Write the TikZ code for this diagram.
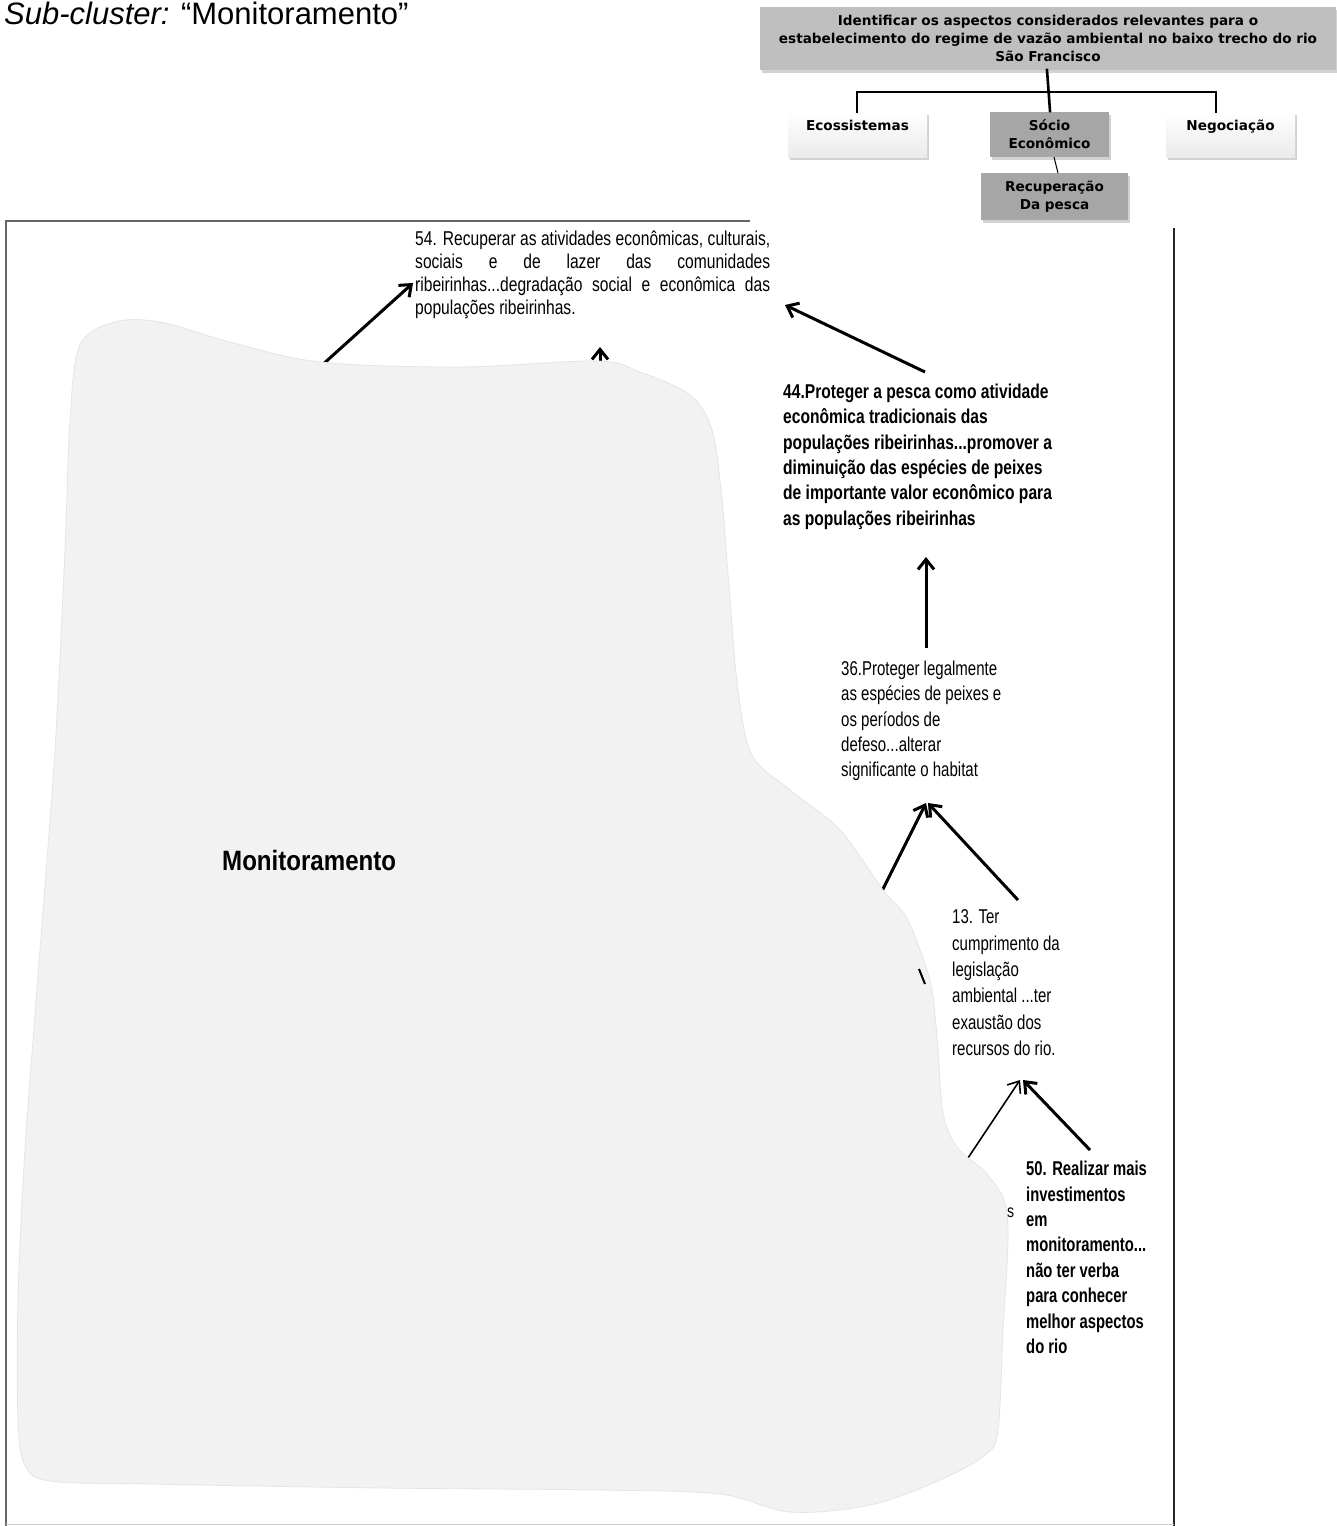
\documentclass[tikz,border=0pt]{standalone}
\usepackage{fontspec}
\setmainfont{Liberation Sans}
\newfontfamily\nar[FakeStretch=0.78]{Liberation Sans}
\newfontfamily\narr[FakeStretch=0.75]{Liberation Sans}
\newfontfamily\narb[FakeStretch=0.74]{Liberation Sans}
\newfontfamily\monf[FakeStretch=0.86]{Liberation Sans}
\newfontfamily\hfont{DejaVu Sans}
\usetikzlibrary{arrows.meta,shadows}
\definecolor{blobgray}{HTML}{F2F2F2}
\definecolor{boxgray}{HTML}{BFBFBF}
\definecolor{darkbox}{HTML}{A6A6A6}
\newcommand{\fl}{\rule{0pt}{20pt}}
\begin{document}
\begin{tikzpicture}[x=1pt,y=-1pt,
  arr/.style={line width=3pt,-{Straight Barb[length=10pt,width=16pt]}},
  thinarr/.style={line width=1.6pt,-{Straight Barb[length=10pt,width=16pt]}},
  hbox/.style={draw=none,inner sep=0pt,align=center,font=\hfont\bfseries\fontsize{13.6}{18}\selectfont,
     drop shadow={opacity=0.35,shadow xshift=2pt,shadow yshift=-3pt}},
  whitebox/.style={hbox,top color=white,bottom color=black!8},
  txt/.style={anchor=north west,inner sep=0pt,align=left},
  bar/.style={line width=2.6pt,line cap=rect}
]
\useasboundingbox (0,0) rectangle (1336,1526);
\fill[white] (0,0) rectangle (1336,1526);

% title
\node[anchor=base west,inner sep=0pt] (title) at (4,24)
  {\fontsize{31}{34}\selectfont\textit{Sub-cluster:} “Monitoramento”};

% hierarchy
\node[hbox,fill=boxgray,minimum width=576pt,minimum height=63pt] (top) at (1048,38.5)
  {Identificar os aspectos considerados relevantes para o\\
   estabelecimento do regime de vazão ambiental no baixo trecho do rio\\
   São Francisco};
\node[whitebox,minimum width=139pt,minimum height=45pt] (eco) at (857.5,134.5) {Ecossistemas\\\mbox{}};
\node[hbox,fill=darkbox,minimum width=119pt,minimum height=45pt] (socio) at (1049.5,134.5) {Sócio\\Econômico};
\node[whitebox,minimum width=129pt,minimum height=45pt] (nego) at (1230.5,134.5) {Negociação\\\mbox{}};
\node[hbox,fill=darkbox,minimum width=147pt,minimum height=47pt] (recup) at (1054.5,196.5) {Recuperação\\Da pesca};

\coordinate (barL) at (857,92);
\coordinate (barR) at (1216,92);
\draw[bar] (1047,70) -- (1050,111);
\draw[bar] (barL |- eco.north) -- (barL) -- (barR) -- (barR |- nego.north);
\draw[line width=1pt] (1054,157) -- (1058,173);

% frame
\draw[line width=2.6pt,black!60] (6,1526) -- (6,221) -- (750,221);
\draw[line width=1.6pt,black!85] (1174,228) -- (1174,1526);
\draw[line width=1pt,black!20] (6,1524.5) -- (1174,1524.5);

% coordinates of hidden tails
\coordinate (t1) at (300,385);
\coordinate (t2) at (600,380);
\coordinate (t5) at (870,915);
\coordinate (t8) at (950,1185);
\coordinate (h54a) at (413,283);
\coordinate (h54b) at (600,347);
\coordinate (h54c) at (785,305);

% arrows partly hidden by the blob
\draw[arr] (t1) -- (h54a);
\draw[arr] (t2) -- (h54b);
\draw[arr] (t5) -- (926,803);
\draw[thinarr] (t8) -- (1020,1080);

% blob
\fill[blobgray,draw=black!10,line width=0.8pt] plot[smooth cycle,tension=0.55] coordinates {
 (80,345) (115,322) (160,322) (230,342) (320,362) (460,367) (597,361) (640,372) (690,395)
 (712,430) (722,500) (730,600) (738,690) (752,755) (790,790) (840,830) (883,890) (905,915)
 (920,950) (932,990) (938,1050) (943,1113) (957,1147) (985,1172) (1004,1200) (1008,1240)
 (1003,1330) (998,1430) (985,1455) (940,1480) (870,1505) (790,1512) (720,1494) (600,1490)
 (383,1488) (150,1484) (50,1481) (25,1465) (18,1420) (18,1300) (25,1150) (40,950)
 (55,750) (65,550) (70,420)};

% small visible fragments at the blob edge
\draw[line width=2pt] (919,969) -- (925,984);
\node[anchor=base west,inner sep=0pt,font=\nar\fontsize{18}{20}\selectfont] (frag) at (1007,1217) {s};

\node[anchor=base west,inner sep=0pt,font=\monf\bfseries\fontsize{28}{30}\selectfont] (mon) at (222,870) {Monitoramento};

% text nodes
\node[txt,font=\nar\fontsize{20}{23}\selectfont] (n54) at (415,225)
 {\fl\makebox[355pt][s]{54. Recuperar as atividades econômicas, culturais,}\\
  \makebox[355pt][s]{sociais e de lazer das comunidades}\\
  \makebox[355pt][s]{ribeirinhas...degradação social e econômica das}\\
  populações ribeirinhas.};
\node[txt,font=\nar\bfseries\fontsize{20}{25.4}\selectfont] (n44) at (783,378)
 {\fl 44.Proteger a pesca como atividade\\
  econômica tradicionais das\\
  populações ribeirinhas...promover a\\
  diminuição das espécies de peixes\\
  de importante valor econômico para\\
  as populações ribeirinhas};
\node[txt,font=\narr\fontsize{20}{25.2}\selectfont] (n36) at (841,655.5)
 {\fl 36.Proteger legalmente\\
  as espécies de peixes e\\
  os períodos de\\
  defeso...alterar\\
  significante o habitat};
\node[txt,font=\narr\fontsize{20}{26.4}\selectfont] (n13) at (952,903.5)
 {\fl 13. Ter\\
  cumprimento da\\
  legislação\\
  ambiental ...ter\\
  exaustão dos\\
  recursos do rio.};
\node[txt,font=\narb\bfseries\fontsize{20}{25.4}\selectfont] (n50) at (1026,1155.5)
 {\fl 50. Realizar mais\\
  investimentos\\
  em\\
  monitoramento...\\
  não ter verba\\
  para conhecer\\
  melhor aspectos\\
  do rio};

% visible arrows
\draw[arr] (925,372) -- (h54c);
\draw[arr] (926,648) -- (926,557);
\draw[arr] (1018,900) -- (928,803);
\draw[arr] (1090,1150) -- (1023,1080);
\end{tikzpicture}
\end{document}
